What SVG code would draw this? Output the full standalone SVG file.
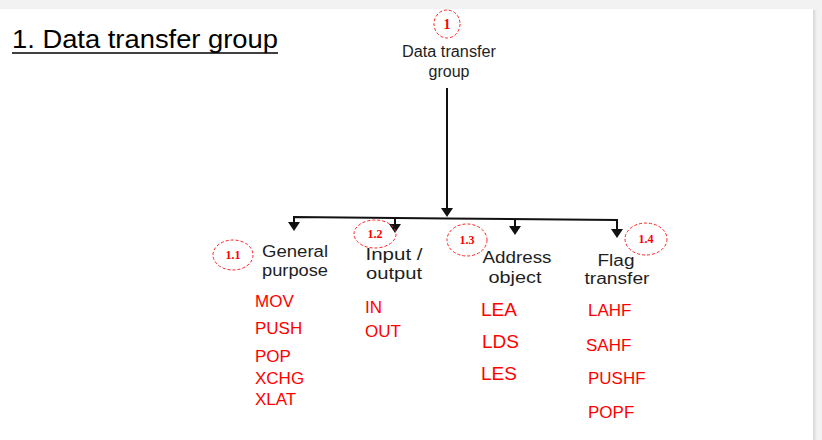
<svg xmlns="http://www.w3.org/2000/svg" width="822" height="440" viewBox="0 0 822 440">
  <defs>
    <style>
      .lbl { font-family: "Liberation Sans", Arial, sans-serif; font-size: 16px; fill: #1e1e1e; text-anchor: middle; }
      .ins { font-family: "Liberation Sans", Arial, sans-serif; font-size: 17px; fill: #ff0000; }
      .big { font-size: 19px; }
      .tag { fill: none; stroke: #ff2020; stroke-width: 1; stroke-dasharray: 3 2; }
      .num { font-family: "Liberation Serif", "Times New Roman", serif; font-weight: bold; font-size: 12px; fill: #ff0000; text-anchor: middle; }
      .wire { fill: none; stroke: #111; stroke-width: 2; }
      .head { fill: #111; }
    </style>
    <linearGradient id="shadow" x1="0" x2="1" y1="0" y2="0">
      <stop offset="0" stop-color="#d6d6d6"/>
      <stop offset="1" stop-color="#f2f2f2"/>
    </linearGradient>
  </defs>

  <rect x="0" y="0" width="822" height="440" fill="#f2f2f2"/>
  <rect x="813" y="10" width="4" height="430" fill="url(#shadow)"/>
  <rect x="0" y="9" width="813" height="431" fill="#ffffff"/>

  <g id="title">
    <text x="12" y="48" font-family="Liberation Sans, Arial, sans-serif" font-size="26" fill="#000" textLength="266" lengthAdjust="spacingAndGlyphs">1. Data transfer group</text>
    <line x1="12" y1="53" x2="278" y2="53" stroke="#000" stroke-width="1.5"/>
  </g>

  <g id="connectors">
    <line class="wire" x1="447" y1="88" x2="447" y2="210"/>
    <polygon class="head" points="441,208 453,208 447,217"/>
    <polyline class="wire" points="294,224 294,217 447,218.5 617,220 617,230"/>
    <polygon class="head" points="288,222 300,222 294,231"/>
    <line class="wire" x1="395" y1="218" x2="395" y2="225"/>
    <polygon class="head" points="389,224 401,224 395,233"/>
    <line class="wire" x1="515" y1="219" x2="515" y2="227"/>
    <polygon class="head" points="509,226 521,226 515,235"/>
    <polygon class="head" points="611,229 623,229 617,238"/>
  </g>

  <g id="node-1">
    <ellipse class="tag" cx="447" cy="24" rx="13" ry="14"/>
    <text x="447" y="29" class="num" style="font-size:14px">1</text>
    <text class="lbl" x="449" y="57" textLength="94" lengthAdjust="spacingAndGlyphs">Data transfer</text>
    <text class="lbl" x="449" y="77">group</text>
  </g>

  <g id="node-1-1">
    <ellipse class="tag" cx="233" cy="255" rx="20" ry="15"/>
    <text class="num" x="233" y="259">1.1</text>
    <text class="lbl" x="295" y="257" textLength="66" lengthAdjust="spacingAndGlyphs">General</text>
    <text class="lbl" x="295" y="276" textLength="66" lengthAdjust="spacingAndGlyphs">purpose</text>
    <text class="ins" x="255" y="307">MOV</text>
    <text class="ins" x="255" y="334">PUSH</text>
    <text class="ins" x="255" y="362">POP</text>
    <text class="ins" x="255" y="384">XCHG</text>
    <text class="ins" x="255" y="405">XLAT</text>
  </g>

  <g id="node-1-2">
    <ellipse class="tag" cx="375" cy="234" rx="21" ry="14"/>
    <text class="num" x="375" y="238">1.2</text>
    <text class="lbl" x="394" y="260" textLength="57" lengthAdjust="spacingAndGlyphs">Input /</text>
    <text class="lbl" x="394" y="279" textLength="56" lengthAdjust="spacingAndGlyphs">output</text>
    <text class="ins" x="365" y="313">IN</text>
    <text class="ins" x="365" y="337">OUT</text>
  </g>

  <g id="node-1-3">
    <ellipse class="tag" cx="467" cy="240" rx="20" ry="16"/>
    <text class="num" x="467" y="244">1.3</text>
    <text class="lbl" x="517" y="263" textLength="69" lengthAdjust="spacingAndGlyphs">Address</text>
    <text class="lbl" x="515" y="283" textLength="53" lengthAdjust="spacingAndGlyphs">object</text>
    <text class="ins big" x="481" y="316">LEA</text>
    <text class="ins big" x="482" y="348">LDS</text>
    <text class="ins big" x="481" y="380">LES</text>
  </g>

  <g id="node-1-4">
    <ellipse class="tag" cx="646" cy="239" rx="21" ry="16"/>
    <text class="num" x="646" y="243">1.4</text>
    <text class="lbl" x="616" y="266" textLength="37" lengthAdjust="spacingAndGlyphs">Flag</text>
    <text class="lbl" x="617" y="284" textLength="65" lengthAdjust="spacingAndGlyphs">transfer</text>
    <text class="ins" x="588" y="316">LAHF</text>
    <text class="ins" x="586" y="351">SAHF</text>
    <text class="ins" x="588" y="384">PUSHF</text>
    <text class="ins" x="588" y="418">POPF</text>
  </g>
</svg>
